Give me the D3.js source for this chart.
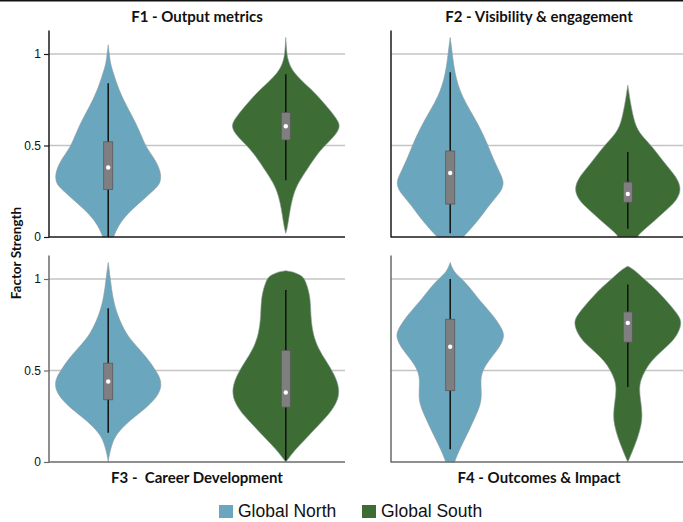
<!DOCTYPE html>
<html><head><meta charset="utf-8">
<script src="https://cdn.jsdelivr.net/npm/d3@7"></script>
<style>body{margin:0;background:#fff}svg{display:block}text{white-space:pre}</style>
</head><body>
<svg id="chart" width="683" height="522"></svg>
<script>
// ---- data ----
const groups = ["Global North", "Global South"];
const colors = ["#6aa6be", "#3d6c35"];
const factors = ["F1 - Output metrics", "F2 - Visibility & engagement", "F3 -  Career Development", "F4 - Outcomes & Impact"];
const yTicks = [0, 0.5, 1];
const yTickLabels = ["0", "0.5", "1"];
// violin profiles: [value, relative half-width]
const f1North = [[1.05,0],[1.0,0.02],[0.95,0.04],[0.9,0.09],[0.8,0.2],[0.71,0.35],[0.63,0.5],[0.55,0.62],[0.49,0.7],[0.42,0.88],[0.35,0.98],[0.3,0.97],[0.27,0.9],[0.2,0.63],[0.13,0.36],[0.06,0.18],[0,0.1]];
const f1South = [[1.09,0],[1.0,0.02],[0.97,0.04],[0.9,0.12],[0.8,0.5],[0.75,0.65],[0.69,0.83],[0.63,0.98],[0.6,1.0],[0.56,0.93],[0.5,0.72],[0.44,0.55],[0.35,0.35],[0.28,0.2],[0.22,0.13],[0.15,0.08],[0.09,0.05],[0.04,0.02],[0.02,0]];
const f2North = [[1.09,0],[1.0,0.04],[0.9,0.08],[0.77,0.2],[0.62,0.52],[0.5,0.7],[0.44,0.78],[0.4,0.84],[0.35,0.92],[0.3,1.0],[0.25,0.95],[0.19,0.76],[0.09,0.52],[0,0.24]];
const f2South = [[0.83,0],[0.75,0.04],[0.64,0.11],[0.57,0.2],[0.5,0.44],[0.4,0.69],[0.33,0.9],[0.26,1.0],[0.2,0.9],[0.165,0.78],[0.09,0.5],[0.02,0.22],[0,0.18]];
const f3North = [[1.09,0],[1.0,0.04],[0.9,0.08],[0.8,0.17],[0.7,0.33],[0.64,0.5],[0.57,0.72],[0.5,0.88],[0.44,1.0],[0.37,0.95],[0.3,0.72],[0.25,0.5],[0.2,0.3],[0.15,0.15],[0.1,0.07],[0.04,0.02],[0,0]];
const f3South = [[1.045,0],[1.04,0.14],[1.02,0.28],[1.0,0.36],[0.9,0.46],[0.8,0.46],[0.7,0.5],[0.62,0.6],[0.55,0.75],[0.48,0.9],[0.4,1.0],[0.33,0.96],[0.26,0.8],[0.2,0.6],[0.13,0.38],[0.07,0.18],[0.02,0.05],[0,0]];
const f4North = [[1.09,0],[1.04,0.06],[1.0,0.22],[0.94,0.4],[0.88,0.55],[0.8,0.8],[0.72,0.98],[0.68,1.0],[0.62,0.9],[0.55,0.7],[0.5,0.6],[0.45,0.56],[0.38,0.58],[0.32,0.57],[0.25,0.47],[0.18,0.36],[0.12,0.26],[0.06,0.16],[0,0.08]];
const f4South = [[1.07,0],[1.05,0.12],[1.0,0.3],[0.95,0.5],[0.88,0.72],[0.8,0.95],[0.76,1.0],[0.7,0.93],[0.65,0.8],[0.6,0.6],[0.55,0.43],[0.5,0.32],[0.45,0.24],[0.4,0.21],[0.33,0.24],[0.26,0.27],[0.2,0.25],[0.13,0.18],[0.07,0.1],[0.02,0.03],[0,0]];
// box stats: [whisker low, q1, median, q3, whisker high]
const f1Box = [[0,0.26,0.38,0.52,0.84],[0.31,0.53,0.605,0.68,0.89]];
const f2Box = [[0.02,0.18,0.35,0.47,0.9],[0.045,0.19,0.235,0.30,0.465]];
const f3Box = [[0.16,0.34,0.44,0.54,0.84],[0.01,0.30,0.38,0.61,0.94]];
const f4Box = [[0.07,0.39,0.63,0.78,1.0],[0.41,0.655,0.76,0.82,0.97]];

const profiles = [[f1North,f1South],[f2North,f2South],[f3North,f3South],[f4North,f4South]];
const boxes = [f1Box,f2Box,f3Box,f4Box];

// ---- layout ----
const svg = d3.select("#chart");
svg.append("rect").attr("x",0).attr("y",0).attr("width",683).attr("height",1.5).attr("fill","#111");

const panelW = 296, panelXs = [49, 391], zeroYs = [237, 462], unit = 183, topExtra = 1.128;
const panels = factors.map((f,i)=>({
  title: f, x0: panelXs[i%2], y0: zeroYs[Math.floor(i/2)], top: i<2,
  left: i%2===0, prof: profiles[i], box: boxes[i]
}));
const wScale = d3.scaleLinear().domain([0,1]).range([0,54]);

panels.forEach(p=>{
  const g = svg.append("g");
  const y = d3.scaleLinear().domain([0,1]).range([p.y0, p.y0-unit]);
  const x = d3.scalePoint().domain(groups).range([p.x0, p.x0+panelW]).padding(1/3);
  const axisCol = p.top ? "#1a1a1a" : "#6a6a6a";
  g.selectAll(".grid").data(yTicks.filter(t=>t>0)).join("line")
    .attr("x1",p.x0).attr("x2",p.x0+panelW).attr("y1",d=>y(d)).attr("y2",d=>y(d))
    .attr("stroke","#c4c4c4").attr("stroke-width",1.5);
  const area = d3.area().y(d=>y(d[0])).curve(d3.curveBasis);
  groups.forEach((gr,k)=>{
    const cx = x(gr);
    g.append("path").datum(p.prof[k])
      .attr("d", area.x0(d=>cx-wScale(d[1])).x1(d=>cx+wScale(d[1])))
      .attr("fill",colors[k]).attr("stroke","#8f9a9e").attr("stroke-width",0.6);
    const b = p.box[k];
    g.append("line").attr("x1",cx).attr("x2",cx).attr("y1",y(b[0])).attr("y2",y(b[4]))
      .attr("stroke","#111").attr("stroke-width",1.5);
    g.append("rect").attr("x",cx-4.5).attr("width",9).attr("y",y(b[3])).attr("height",y(b[1])-y(b[3]))
      .attr("fill","#7f7f7f").attr("stroke","#5a5a5a").attr("stroke-width",0.8);
    g.append("circle").attr("cx",cx).attr("cy",y(b[2])).attr("r",2.2).attr("fill","#fff");
  });
  const yAxisTop = p.y0 - unit*topExtra;
  g.append("line").attr("x1",p.x0).attr("x2",p.x0).attr("y1",yAxisTop).attr("y2",p.y0+0.5)
    .attr("stroke",axisCol).attr("stroke-width",1.5);
  g.append("line").attr("x1",p.x0).attr("x2",p.x0+panelW).attr("y1",p.y0).attr("y2",p.y0)
    .attr("stroke",axisCol).attr("stroke-width",1.5);
  if(p.left){
    const ax = g.append("g").attr("transform",`translate(${p.x0},0)`)
      .call(d3.axisLeft(y).tickValues(yTicks).tickFormat((d,i)=>yTickLabels[i]).tickSize(5).tickPadding(3));
    ax.select(".domain").remove();
    ax.selectAll("line").attr("stroke",axisCol).attr("stroke-width",1.2);
    ax.selectAll("text").attr("font-family","Liberation Sans, Arial, sans-serif").attr("font-size",12).attr("fill","#111");
  }
  g.append("text").attr("x",p.x0+panelW/2).attr("y",p.top?22:483)
    .attr("text-anchor","middle").attr("font-family","Lato, sans-serif").attr("font-weight","bold")
    .attr("font-size",15).attr("fill","#111").text(p.title);
});

svg.append("text").attr("transform","translate(21,253) rotate(-90)").attr("text-anchor","middle")
  .attr("font-family","Lato, sans-serif").attr("font-weight","bold").attr("font-size",13.5).attr("fill","#111")
  .text("Factor Strength");

const legX = [219, 362];
groups.forEach((gr,k)=>{
  svg.append("rect").attr("x",legX[k]).attr("y",505).attr("width",14).attr("height",13).attr("fill",colors[k]);
  svg.append("text").attr("x",legX[k]+19).attr("y",517).attr("font-family","Liberation Sans, Arial, sans-serif")
    .attr("font-size",17.5).attr("fill","#111").text(gr);
});
</script>
</body></html>
